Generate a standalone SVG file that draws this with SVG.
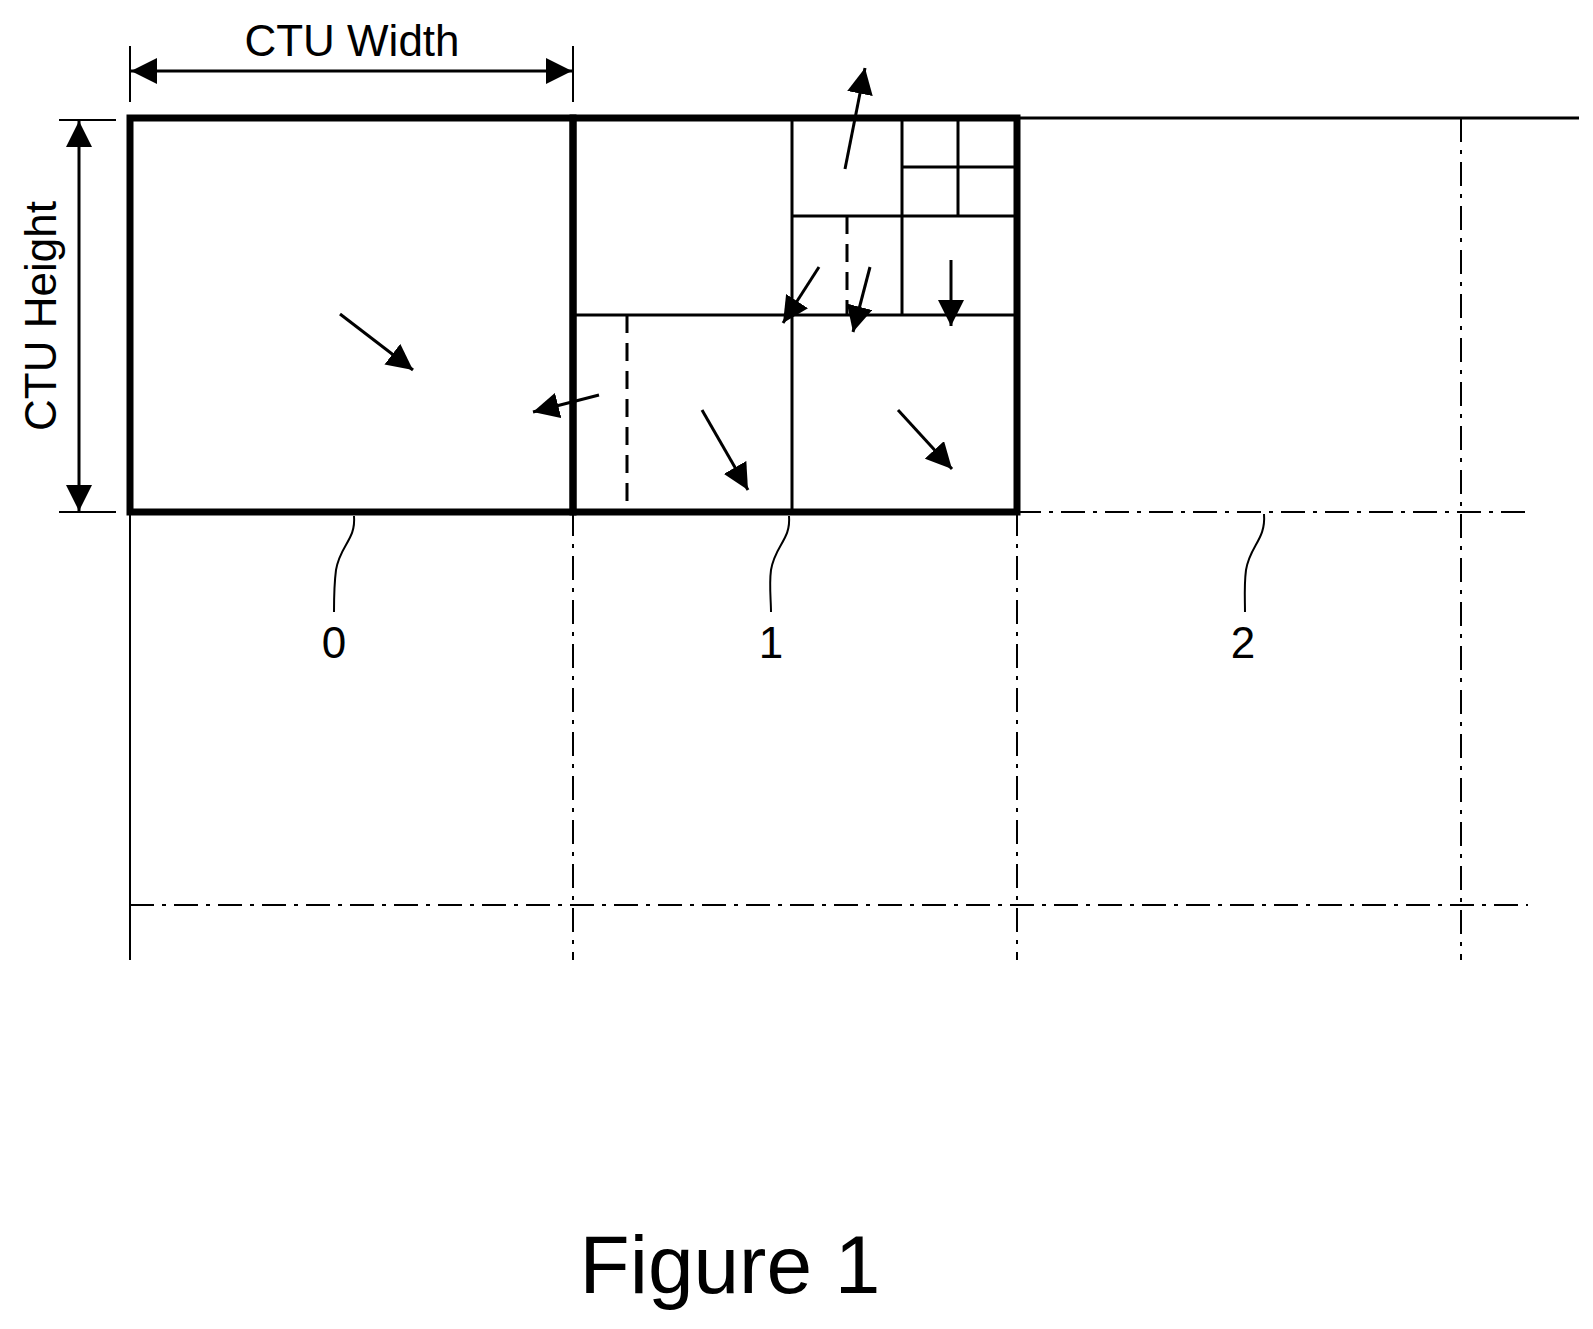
<svg xmlns="http://www.w3.org/2000/svg" width="1593" height="1329" viewBox="0 0 1593 1329">
<defs>
<marker id="ah" viewBox="0 0 10 10" refX="10" refY="5" markerWidth="26" markerHeight="26" markerUnits="userSpaceOnUse" orient="auto"><path d="M0,0 L10,5 L0,10 z" fill="#000"/></marker>
<marker id="ahs" viewBox="0 0 10 10" refX="10" refY="5" markerWidth="26" markerHeight="26" markerUnits="userSpaceOnUse" orient="auto-start-reverse"><path d="M0,0 L10,5 L0,10 z" fill="#000"/></marker>
</defs>
<style>
.t{font-family:"Liberation Sans",Arial,sans-serif;fill:#000}
.thick{stroke:#000;stroke-width:7;fill:none}
.thin{stroke:#000;stroke-width:3;fill:none}
.dash{stroke:#000;stroke-width:3;stroke-dasharray:18,10;fill:none}
.dd{stroke:#000;stroke-width:2;stroke-dasharray:24,8,4,8;fill:none}
.ar{stroke:#000;stroke-width:3;marker-end:url(#ah)}
</style>
<rect width="1593" height="1329" fill="#fff"/>
<g id="grid">
<line class="thin" x1="1017" y1="118" x2="1579" y2="118"/>
<line class="dd" x1="1017" y1="512" x2="1528" y2="512"/>
<line class="dd" x1="130" y1="905" x2="1528" y2="905"/>
<line class="thin" x1="130" y1="512" x2="130" y2="960" style="stroke-width:2"/>
<line class="dd" x1="573" y1="512" x2="573" y2="960"/>
<line class="dd" x1="1017" y1="512" x2="1017" y2="960"/>
<line class="dd" x1="1461" y1="118" x2="1461" y2="960"/>
</g>
<g id="ctu0">
<rect class="thick" x="130" y="118" width="443" height="394"/>
<line class="ar" x1="340" y1="314" x2="413" y2="370"/>
</g>
<g id="ctu1">
<rect class="thick" x="573" y="118" width="444" height="394"/>
<line class="thin" x1="792" y1="118" x2="792" y2="512"/>
<line class="thin" x1="573" y1="315" x2="1017" y2="315"/>
<line class="thin" x1="902" y1="118" x2="902" y2="315"/>
<line class="thin" x1="792" y1="216" x2="1017" y2="216"/>
<line class="thin" x1="958" y1="118" x2="958" y2="216"/>
<line class="thin" x1="902" y1="167" x2="1017" y2="167"/>
<line class="dash" x1="847" y1="216" x2="847" y2="315"/>
<line class="dash" x1="627" y1="315" x2="627" y2="511"/>
<line class="ar" x1="845" y1="169" x2="865" y2="68"/>
<line class="ar" x1="819" y1="267" x2="783" y2="323"/>
<line class="ar" x1="870" y1="267" x2="853" y2="332"/>
<line class="ar" x1="951" y1="260" x2="951" y2="326"/>
<line class="ar" x1="702" y1="410" x2="748" y2="490"/>
<line class="ar" x1="898" y1="410" x2="952" y2="469"/>
<line class="ar" x1="599" y1="395" x2="533" y2="412"/>
</g>
<g id="dims">
<line class="thin" x1="130" y1="46" x2="130" y2="102" style="stroke-width:2"/>
<line class="thin" x1="573" y1="46" x2="573" y2="102" style="stroke-width:2"/>
<line x1="131" y1="71" x2="572" y2="71" stroke="#000" stroke-width="3" marker-start="url(#ahs)" marker-end="url(#ah)"/>
<text class="t" x="352" y="56" font-size="44" text-anchor="middle">CTU Width</text>
<line class="thin" x1="59" y1="120" x2="116" y2="120" style="stroke-width:2"/>
<line class="thin" x1="59" y1="512" x2="116" y2="512" style="stroke-width:2"/>
<line x1="79" y1="121" x2="79" y2="511" stroke="#000" stroke-width="3" marker-start="url(#ahs)" marker-end="url(#ah)"/>
<text class="t" font-size="44" text-anchor="middle" transform="translate(56,316) rotate(-90)">CTU Height</text>
</g>
<g id="labels">
<path class="thin" style="stroke-width:2" d="M354,516 C356,540 340,545 336,570 C334,585 334,600 334,612"/>
<path class="thin" style="stroke-width:2" d="M789,516 C791,540 775,545 771,570 C769,585 771,600 771,612"/>
<path class="thin" style="stroke-width:2" d="M1264,514 C1266,540 1250,545 1246,570 C1244,585 1245,600 1245,612"/>
<text class="t" x="334" y="658" font-size="44" text-anchor="middle">0</text>
<text class="t" x="771" y="658" font-size="44" text-anchor="middle">1</text>
<text class="t" x="1243" y="658" font-size="44" text-anchor="middle">2</text>
<text class="t" x="730" y="1293" font-size="82" text-anchor="middle">Figure 1</text>
</g>
</svg>
